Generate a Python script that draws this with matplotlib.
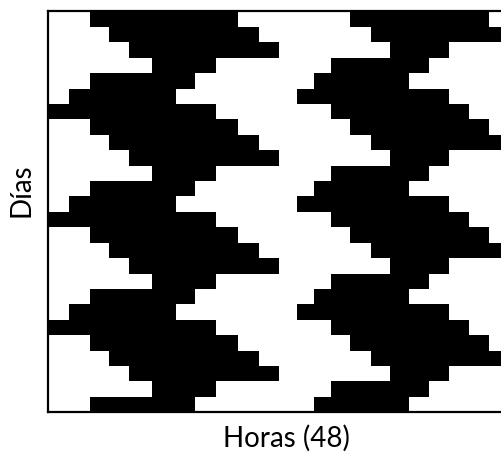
import matplotlib
matplotlib.use("Agg")
import matplotlib.pyplot as plt

plt.rcParams["font.family"] = ["Lato", "DejaVu Sans"]

# Episodios (hora de inicio y fin) de cada día en el doble trazado de 48 h
inicio_a = [4.17, 6.1, 8.1, 10.4, 4.17, 2.1, 0.0,
            4.17, 6.1, 8.1, 10.4, 4.17, 2.1, 0.0,
            4.17, 6.1, 8.1, 10.4, 4.17, 2.1, 0.0,
            4.17, 6.1, 8.1, 10.4, 4.17]
fin_a = [19.0, 21.07, 23.07, 16.77, 14.67, 12.77, 16.77,
         19.0, 21.07, 23.07, 16.77, 14.67, 12.77, 16.77,
         19.0, 21.07, 23.07, 16.77, 14.67, 12.77, 16.77,
         19.0, 21.07, 23.07, 16.77, 14.67]
inicio_b = [30.2, 32.27, 34.17, 28.3, 26.6, 24.9, 28.3,
            30.2, 32.27, 34.17, 28.3, 26.6, 24.9, 28.3,
            30.2, 32.27, 34.17, 28.3, 26.6, 24.9, 28.3,
            30.2, 32.27, 34.17, 28.3, 26.6]
fin_b = [44.07, 48.0, 40.07, 38.12, 36.1, 40.07, 42.07,
         44.07, 48.0, 40.07, 38.12, 36.1, 40.07, 42.07,
         44.07, 48.0, 40.07, 38.12, 36.1, 40.07, 42.07,
         44.07, 48.0, 40.07, 38.12, 36.1]

n_dias = len(inicio_a)
horas = 48

fig = plt.figure(figsize=(5.01, 4.54), dpi=100)
# the 48 h axis runs a little past the right edge of the figure
ax = fig.add_axes([48.3 / 501, 41.7 / 454, 480 / 501, 400.8 / 454])

for dia in range(n_dias):
    tramos = [(inicio_a[dia], fin_a[dia] - inicio_a[dia]),
              (inicio_b[dia], fin_b[dia] - inicio_b[dia])]
    # no antialiasing, so stacked days don't leave seams between rows
    ax.broken_barh(tramos, (dia, 1), facecolors="black",
                   linewidth=0, antialiased=False)

ax.set_xlim(0, horas)
ax.set_ylim(n_dias, 0)
ax.set_xticks([])
ax.set_yticks([])
for spine in ax.spines.values():
    spine.set_linewidth(1.6)
    spine.set_color("black")
    spine.set_zorder(3)

fig.text(286.7 / 501, 1 - 438 / 454, "Horas (48)", ha="center", va="center",
         fontsize=20)
fig.text(21 / 501, 1 - 190 / 454, "Días", ha="center", va="center",
         rotation=90, fontsize=20)

fig.savefig("out.png", dpi=100)
plt.close(fig)
